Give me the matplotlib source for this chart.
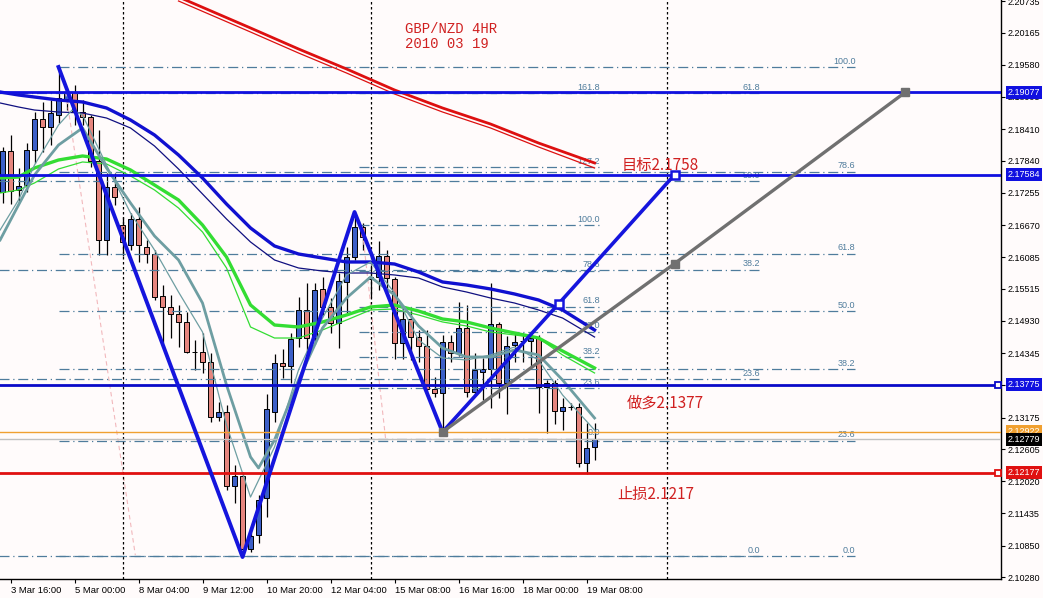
"""GBP/NZD 4HR chart, 2010-03-19 - MT4 style candles with MAs, fib levels and trade notes."""

import matplotlib
matplotlib.use("Agg")
import matplotlib.pyplot as plt
import matplotlib.transforms as mtransforms

# ---------------------------------------------------------------------------
# Data
# ---------------------------------------------------------------------------

bars = list(range(-1, 74))

opens = [2.1727, 2.18014, 2.17306, 2.17397, 2.18032, 2.18595, 2.1845, 2.18668, 2.18958, 2.19085,
         2.18722, 2.18631, 2.17833, 2.16399, 2.17361, 2.16671, 2.16308, 2.1678, 2.16272, 2.16145,
         2.15383, 2.15183, 2.15056, 2.14911, 2.14366, 2.14366, 2.14185, 2.13186, 2.13277, 2.11934,
         2.12116, 2.10791, 2.11045, 2.11716, 2.13277, 2.14167, 2.14112, 2.1462, 2.15128, 2.1462,
         2.1551, 2.15183, 2.14893, 2.15637, 2.1609, 2.16635, 2.15691, 2.15727, 2.16109, 2.15691,
         2.1453, 2.14965, 2.14638, 2.14475, 2.13695, 2.13622, 2.14548, 2.14348, 2.14802, 2.1364,
         2.14003, 2.14058, 2.14874, 2.13804, 2.14493, 2.14566, 2.14566, 2.1462, 2.13731, 2.13804,
         2.13295, 2.13368, 2.13368, 2.12352, 2.12642]
highs = [2.18087, 2.18305, 2.17706, 2.1816, 2.18722, 2.18904, 2.1894, 2.19539, 2.19158, 2.19212,
         2.1894, 2.18668, 2.18395, 2.17615, 2.17615, 2.16816, 2.16889, 2.16998, 2.16399, 2.16217,
         2.15582, 2.15401, 2.15219, 2.15092, 2.14584, 2.14711, 2.14348, 2.13459, 2.13404, 2.12315,
         2.12188, 2.11081, 2.11771, 2.13604, 2.1433, 2.14421, 2.14711, 2.15364, 2.15619, 2.15619,
         2.15727, 2.15346, 2.158, 2.16272, 2.16907, 2.16708, 2.15945, 2.16381, 2.16217, 2.15727,
         2.15165, 2.15165, 2.14765, 2.14765, 2.13912, 2.14675, 2.14675, 2.15274, 2.15219, 2.14348,
         2.14257, 2.15619, 2.14911, 2.14657, 2.14729, 2.14711, 2.14711, 2.14675, 2.13858, 2.13858,
         2.13531, 2.13441, 2.13441, 2.13078, 2.13078]
lows = [2.17071, 2.17052, 2.17071, 2.1727, 2.17797, 2.17996, 2.18123, 2.18523, 2.18758, 2.18486,
        2.18486, 2.17724, 2.16127, 2.16127, 2.17034, 2.16109, 2.16217, 2.16, 2.15982, 2.1531,
        2.1453, 2.1462, 2.14457, 2.14348, 2.14039, 2.13985, 2.13096, 2.13114, 2.11861, 2.11626,
        2.10645, 2.10736, 2.109, 2.11371, 2.13096, 2.13894, 2.13804, 2.14457, 2.14312, 2.14511,
        2.15038, 2.14711, 2.14439, 2.15074, 2.16036, 2.16217, 2.15364, 2.15491, 2.15491, 2.14239,
        2.14239, 2.14221, 2.14185, 2.1364, 2.13549, 2.12896, 2.14185, 2.14294, 2.13549, 2.13586,
        2.13495, 2.1335, 2.13531, 2.13241, 2.14185, 2.14185, 2.14058, 2.13259, 2.12896, 2.13059,
        2.1295, 2.13313, 2.12279, 2.12152, 2.12406]
closes = [2.18014, 2.17288, 2.17379, 2.18032, 2.18595, 2.1845, 2.18704, 2.18976, 2.19085, 2.1874,
          2.18631, 2.17833, 2.16399, 2.17361, 2.17179, 2.16363, 2.1678, 2.16308, 2.16145, 2.15364,
          2.15183, 2.15056, 2.14911, 2.14366, 2.14366, 2.14185, 2.13186, 2.13277, 2.11934, 2.12116,
          2.10791, 2.11027, 2.1168, 2.13332, 2.14167, 2.14112, 2.14602, 2.15128, 2.1462, 2.15491,
          2.15183, 2.14893, 2.15655, 2.1609, 2.16635, 2.16453, 2.15727, 2.16109, 2.15709, 2.1453,
          2.14965, 2.14638, 2.14475, 2.13695, 2.13622, 2.14548, 2.14348, 2.14802, 2.1364, 2.14039,
          2.14058, 2.14874, 2.13804, 2.14475, 2.14548, 2.14566, 2.1462, 2.13731, 2.13804, 2.13295,
          2.13368, 2.13368, 2.12352, 2.12624, 2.12779]

# moving averages, sampled along the bar axis
ma_x = [-1.3, 1, 3, 6, 9, 12, 15, 18, 21, 24, 27, 30, 33, 36, 39, 42, 45, 48, 51, 54, 57, 60, 63,
        66, 69, 73]
ma_blue = [2.19085, 2.19031, 2.18994, 2.1894, 2.18904, 2.18795, 2.18577, 2.18305, 2.17942, 2.17524,
           2.17052, 2.16617, 2.1629, 2.16145, 2.16072, 2.16, 2.16, 2.15963, 2.15818, 2.15637,
           2.15582, 2.1551, 2.15419, 2.1531, 2.15129, 2.14765]
ma_navy = [2.18886, 2.18813, 2.18758, 2.18722, 2.18704, 2.18613, 2.18432, 2.18105, 2.17688, 2.17234,
           2.1678, 2.16363, 2.16036, 2.15891, 2.15836, 2.158, 2.158, 2.15764, 2.15709, 2.15546,
           2.15455, 2.15346, 2.15255, 2.15129, 2.14983, 2.14638]
ma_green = [2.17524, 2.17542, 2.17706, 2.17851, 2.17924, 2.17869, 2.1767, 2.17397, 2.17125, 2.16671,
            2.1609, 2.15219, 2.14856, 2.1482, 2.14911, 2.15038, 2.15183, 2.15219, 2.1511, 2.14965,
            2.14911, 2.14802, 2.14711, 2.1462, 2.14384, 2.14076]
ma_green_thin = [2.17252, 2.17307, 2.17434, 2.17688, 2.17815, 2.17779, 2.17561, 2.17307, 2.1698,
                 2.16544, 2.15891, 2.1482, 2.1462, 2.1462, 2.14766, 2.14947, 2.15129, 2.15147,
                 2.15038, 2.14911, 2.14838, 2.14729, 2.14675, 2.1462, 2.14312, 2.13985]

teal_x = [-1.3, 1, 3, 6, 9, 12, 15, 18, 21, 24, 27, 30, 31, 33, 36, 39, 42, 45, 48, 51, 54, 57, 60,
          63, 66, 69, 73]
ma_teal = [2.16399, 2.17034, 2.17579, 2.18123, 2.18432, 2.17706, 2.1707, 2.16472, 2.16036, 2.15255,
           2.13767, 2.12461, 2.12261, 2.1277, 2.13858, 2.14802, 2.15346, 2.15727, 2.15401, 2.14838,
           2.14439, 2.14276, 2.14276, 2.14403, 2.14312, 2.13858, 2.13168]
teal_thin_x = [-1.3, 1, 3, 6, 7.7, 9, 12, 15, 18, 21, 24, 27, 30, 33, 36, 39, 42, 45, 48, 51, 54,
               57, 60, 63, 66, 69, 73]
ma_teal_thin = [2.1658, 2.17125, 2.1776, 2.18486, 2.18758, 2.18668, 2.1776, 2.16889, 2.16218,
                2.15455, 2.14729, 2.13041, 2.11734, 2.12642, 2.1404, 2.14983, 2.15764, 2.16,
                2.15437, 2.14584, 2.14257, 2.14221, 2.14312, 2.14457, 2.14221, 2.13586, 2.1295]

red_x = [21, 30, 36, 42, 48, 54, 60, 66, 73]
ma_red = [2.2081, 2.20247, 2.19866, 2.19503, 2.19122, 2.18795, 2.18504, 2.18159, 2.17797]
ma_red_thin = [2.20737, 2.20174, 2.19793, 2.1943, 2.19049, 2.18722, 2.18432, 2.18087, 2.17706]

# drawn objects
zigzag_x = [6, 29, 43, 54]
zigzag_y = [2.19539, 2.10645, 2.16907, 2.12914]
proj_x = [54, 68.5, 83]
proj_y = [2.12914, 2.1524, 2.17584]
gray_x = [54, 83, 111.8]
gray_y = [2.12914, 2.1597, 2.19077]
pink_segments = [((6.9, 15.6), (2.19085, 2.10682)), ((43.9, 46.9), (2.16671, 2.12769))]
vlines_at = [14, 45, 82]

hlines = [  # price, colour, width
    (2.19077, "#1010E0", 2.0),
    (2.17584, "#1010E0", 2.0),
    (2.13775, "#0A0AC8", 2.0),
    (2.12922, "#F0A030", 1.0),
    (2.12779, "#C0C0C0", 1.0),
    (2.12177, "#E01010", 2.0),
]
hline_tags = [  # price, box colour
    (2.19077, "#1010E0"),
    (2.17584, "#1010E0"),
    (2.13775, "#1010E0"),
    (2.12922, "#F0A030"),
    (2.12779, "#000000"),
    (2.12177, "#E01010"),
]

# fibonacci objects: (low, high, start bar, end bar, levels)
fibs = [
    (2.10664, 2.19539, 6, 105.6, [0.0, 23.6, 38.2, 50.0, 61.8, 78.6, 100.0]),
    (2.10664, 2.24261, -2, 93.7, [0.0, 23.6, 38.2, 50.0, 61.8]),
    (2.12794, 2.16671, 43.5, 73.7, [0.0, 23.6, 38.2, 50.0, 61.8, 78.6, 100.0, 127.2, 161.8]),
]

price_ticks = [2.10280, 2.10850, 2.11435, 2.12020, 2.12605, 2.13175, 2.13760, 2.14345, 2.14930,
               2.15515, 2.16085, 2.16670, 2.17255, 2.17840, 2.18410, 2.18995, 2.19580, 2.20165,
               2.20735]
time_ticks = [0, 8, 16, 24, 32, 40, 48, 56, 64, 72]
time_labels = ["3 Mar 16:00", "5 Mar 00:00", "8 Mar 04:00", "9 Mar 12:00", "10 Mar 20:00",
               "12 Mar 04:00", "15 Mar 08:00", "16 Mar 16:00", "18 Mar 00:00", "19 Mar 08:00"]

notes = [  # bar, price, text
    (76.4, 2.17670, "目标2.1758"),
    (77.0, 2.13350, "做多2.1377"),
    (75.8, 2.11698, "止损2.1217"),
]

# ---------------------------------------------------------------------------
# Figure
# ---------------------------------------------------------------------------

BG = "#FFFBFB"
BULL = "#3C5FC8"
BEAR = "#E6857E"
FIB = "#4F7C9C"
NOTE_RED = "#D02020"
CJK = ["Noto Sans CJK SC", "DejaVu Sans"]

fig = plt.figure(figsize=(10.43, 5.98), dpi=100)
fig.patch.set_facecolor(BG)
ax = fig.add_axes([0, 19 / 598, 1001 / 1043, 579 / 598])
ax.set_facecolor(BG)
ax.set_xlim(-1.3125, 123.8)
ax.set_ylim(2.10246, 2.20755)

# candles
for x, o, h, l, c in zip(bars, opens, highs, lows, closes):
    ax.vlines(x, l, h, color="black", linewidth=0.9, zorder=2)
    color = BULL if c > o else BEAR
    ax.bar(x, abs(c - o), bottom=min(o, c), width=0.68, color=color,
           edgecolor="black", linewidth=0.7, zorder=2.5)

# moving averages
ax.plot(red_x, ma_red, color="#DD1010", linewidth=2.0, zorder=3)
ax.plot(red_x, ma_red_thin, color="#DD1010", linewidth=0.9, zorder=3)
ax.plot(ma_x, ma_blue, color="#1010D0", linewidth=2.4, zorder=3)
ax.plot(ma_x, ma_navy, color="#101080", linewidth=0.9, zorder=3)
ax.plot(ma_x, ma_green, color="#33DD33", linewidth=2.4, zorder=3)
ax.plot(ma_x, ma_green_thin, color="#33DD33", linewidth=0.9, zorder=3)
ax.plot(teal_x, ma_teal, color="#6E9EA2", linewidth=2.0, zorder=3)
ax.plot(teal_thin_x, ma_teal_thin, color="#6E9EA2", linewidth=0.9, zorder=3)

# fibonacci retracements
for lo, hi, x0, x1, levels in fibs:
    for lvl in levels:
        p = lo + (hi - lo) * lvl / 100.0
        ax.plot([x0, x1], [p, p], color=FIB, linewidth=0.9,
                linestyle=(0, (8, 3, 1, 3)), zorder=2.8)
        ax.annotate(f"{lvl:.1f}", (x1, p), xytext=(0, 1), textcoords="offset points",
                    ha="right", va="bottom", fontsize=6.5, color=FIB,
                    family="Liberation Sans", zorder=2.8)

for xs, ys in pink_segments:
    ax.plot(xs, ys, color="#F2B8BC", linewidth=0.8, linestyle=(0, (4, 3)), zorder=2.7)

for vx in vlines_at:
    ax.axvline(vx, color="black", linewidth=0.9, linestyle=(0, (2, 2)), zorder=2.7)

# horizontal levels
for price, color, lw in hlines:
    ax.axhline(price, color=color, linewidth=lw, zorder=4)
for price, color in [(2.13775, "#0A0AC8"), (2.12177, "#E01010")]:
    ax.plot([123.4], [price], marker="s", markersize=4.5, markerfacecolor=BG,
            markeredgecolor=color, markeredgewidth=1.3, clip_on=False, zorder=6)

# pattern lines
ax.plot(zigzag_x, zigzag_y, color="#1515DD", linewidth=2.8, zorder=5)
ax.plot(proj_x, proj_y, color="#1515DD", linewidth=2.6, zorder=5)
ax.plot(proj_x[1:], proj_y[1:], linestyle="none", marker="s", markersize=6,
        markerfacecolor="white", markeredgecolor="#1515DD", markeredgewidth=1.8, zorder=6)
ax.plot(gray_x, gray_y, color="#707070", linewidth=2.4, zorder=5)
ax.plot(gray_x, gray_y, linestyle="none", marker="s", markersize=6,
        color="#707070", zorder=6)

# axes styling
for side in ["top", "left"]:
    ax.spines[side].set_visible(False)
ax.spines["right"].set_linewidth(1.0)
ax.spines["bottom"].set_linewidth(1.0)
ax.yaxis.tick_right()
ax.set_yticks(price_ticks)
ax.set_yticklabels([f"{t:.5f}" for t in price_ticks])
ax.set_xticks(time_ticks)
ax.set_xticklabels(time_labels)
ax.tick_params(axis="y", direction="out", length=3, width=0.8, pad=1.5, labelsize=6.5)
ax.tick_params(axis="x", direction="out", length=3, width=0.8, pad=2, labelsize=6.8)
for lbl in ax.get_xticklabels() + ax.get_yticklabels():
    lbl.set_family("Liberation Sans")
for lbl in ax.get_xticklabels():
    lbl.set_horizontalalignment("left")

# price tags on the right axis
trans = mtransforms.blended_transform_factory(ax.transAxes, ax.transData)
for price, color in hline_tags:
    ax.text(1.0065, price, f"{price:.5f}", transform=trans, ha="left", va="center",
            fontsize=6.5, color="white", family="Liberation Sans", clip_on=False, zorder=10,
            bbox=dict(boxstyle="square,pad=0.2", facecolor=color, edgecolor="none"))

# header and trade notes
ax.text(405 / 1001, 1 - 22 / 579, "GBP/NZD 4HR\n2010 03 19", transform=ax.transAxes,
        ha="left", va="top", fontsize=10, color=NOTE_RED, family="Liberation Mono",
        linespacing=1.1)
for x, y, txt in notes:
    ax.text(x, y, txt, ha="left", va="baseline", fontsize=11, color=NOTE_RED, family=CJK,
            zorder=7)

fig.savefig("out.png", dpi=100, facecolor=BG)
plt.close(fig)
